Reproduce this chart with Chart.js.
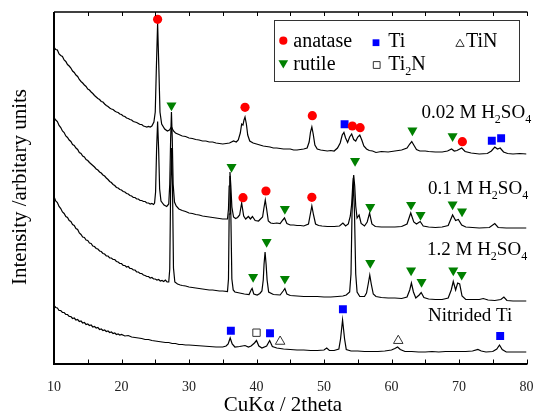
<!DOCTYPE html>
<html><head><meta charset="utf-8">
<script src="https://cdn.jsdelivr.net/npm/chart.js@4.4.0/dist/chart.umd.min.js"></script>
<style>html,body{margin:0;padding:0;background:#fff}#wrap{width:533px;height:418px;position:relative}canvas{display:block}</style>
</head><body><div id="wrap"><canvas id="c" width="533" height="418"></canvas></div>
<script>
// ---------- data (2theta, intensity in arbitrary units) ----------
const xTicks = [10, 20, 30, 40, 50, 60, 70, 80];
const xTitle = 'CuKα / 2theta';
const yTitle = 'Intensity /arbitary units';
const label002 = ['0.02 M H', '2', 'SO', '4'];
const label01 = ['0.1 M H', '2', 'SO', '4'];
const label12 = ['1.2 M H', '2', 'SO', '4'];
const labelNit = ['Nitrided Ti'];

const trace002 = [[10,317],[10.25,314.5],[10.5,314],[10.75,310],[11,308.5],[11.25,307.5],[11.5,304],[11.75,302.5],[12,299.5],[12.25,298],[12.5,296],[12.75,293],[13,291.5],[13.25,289],[13.5,287.5],[13.75,284.5],[14,282.5],[14.25,281],[14.5,279],[14.75,277.5],[15,275],[15.25,274],[15.5,272],[15.75,270.5],[16,268.5],[16.25,267],[16.5,265.5],[16.75,264.5],[17,262.5],[17.25,262],[17.5,260],[17.75,258.5],[18,257.5],[18.25,256],[18.5,255],[18.75,254.5],[19,253],[19.25,252],[19.5,251.5],[19.75,250],[20,249.5],[20.25,248],[20.5,247.5],[20.75,246],[21,245.5],[21.25,244.5],[21.5,244],[21.75,242.5],[22,242],[22.25,241.5],[22.5,240.5],[22.75,239.5],[23,239.5],[23.25,238],[23.5,237.5],[23.75,237],[24,237.5],[24.25,237],[24.5,238],[24.8,242],[25.0,252],[25.15,292],[25.35,341],[25.55,292],[25.7,252],[25.95,240],[26.4,235],[26.8,233],[27.1,234],[27.4,237],[27.7,233],[28.0,231],[28.5,229.5],[29,228],[29.5,227.5],[30,226],[30.5,225.5],[31,224.5],[31.5,224],[32,223],[32.5,223],[33,222],[33.5,222],[34,221],[34.5,220.5],[35,220],[35.5,220.5],[36,221],[36.6,223],[37,222],[37.3,224],[37.6,231],[37.8,240],[38.0,239],[38.15,244],[38.3,247],[38.5,240],[38.7,229],[39.0,223],[39.5,221],[40,220],[40.5,219],[41,218],[41.5,217.5],[42,217],[42.5,216],[43,216],[43.5,215.5],[44,215],[44.5,215],[45,215],[45.5,214],[46,214],[46.5,214.5],[47,215],[47.5,216],[47.8,222],[48.0,232],[48.2,237],[48.4,230],[48.65,219],[49.0,215],[49.5,214],[50,213.5],[50.5,213],[51,213.5],[51.5,213],[52.0,216],[52.4,221],[52.7,229],[52.95,231.5],[53.2,226],[53.5,221.5],[53.8,227],[54.1,230],[54.4,224.5],[54.7,223],[55.0,227],[55.3,229],[55.6,224],[55.9,218],[56.3,215],[56.7,213.5],[57.2,213],[57.7,211.5],[58.5,212.5],[59.5,212],[60.5,213],[61.5,214],[62.3,216],[62.7,220],[63.0,222.5],[63.3,219],[63.7,214.5],[64.2,213],[65.0,213],[65.5,212.5],[66.5,212],[67.5,212],[68.3,213],[68.9,215],[69.3,213],[69.7,213.5],[70.4,216],[70.9,212.5],[71.8,211],[73,210],[74.2,210.5],[74.8,213],[75.3,217],[75.7,215],[76.1,216],[76.6,212],[77.2,210.5],[78,210],[79,210.5],[80,210]];

const trace01 = [[10,246.5],[10.25,244],[10.5,242.5],[10.75,238.5],[11,236.5],[11.25,233],[11.5,231.5],[11.75,228],[12,226.5],[12.25,224],[12.5,222.5],[12.75,219.5],[13,218.5],[13.25,216],[13.5,214.5],[13.75,211.5],[14,210.5],[14.25,208],[14.5,207],[14.75,204.5],[15,203.5],[15.25,201.5],[15.5,200],[15.75,198.5],[16,197],[16.25,195],[16.5,194],[16.75,192],[17,191],[17.25,189],[17.5,188],[17.75,186],[18,184.5],[18.25,182.5],[18.5,181.5],[18.75,179.5],[19,178.5],[19.25,176.5],[19.5,176],[19.75,174.5],[20,174],[20.25,172.5],[20.5,172],[20.75,170.5],[21,170],[21.25,168.5],[21.5,168],[21.75,166.5],[22,166.5],[22.25,165],[22.5,165],[22.75,163.5],[23,163.5],[23.25,162.5],[23.5,162.5],[23.75,161],[24,161],[24.25,160],[24.5,160.5],[24.75,159.5],[24.9,161],[25.05,172],[25.2,215],[25.35,242.5],[25.5,215],[25.65,175],[25.85,163],[26.3,159],[26.7,157.5],[27.0,160],[27.15,180],[27.28,225],[27.4,252],[27.52,225],[27.65,180],[27.85,162],[28.1,158],[28.5,155],[29,153.5],[29.5,152.5],[30,151],[30.5,150.5],[31,149.5],[31.5,149],[32,148],[32.5,147.5],[33,147],[33.5,146.5],[34,146],[34.5,145.5],[35,145],[35.7,145],[35.85,155],[35.95,178],[36.07,192],[36.2,178],[36.35,157],[36.6,147],[36.9,145.5],[37.2,146.5],[37.5,149],[37.8,161],[38.1,148],[38.4,145],[38.8,147.5],[39.1,145],[39.4,147.5],[39.8,143.5],[40.3,143],[40.9,147],[41.1,156],[41.3,164],[41.5,155],[41.75,143],[42.1,141],[42.5,140.5],[43.0,141],[43.5,140.5],[43.9,144],[44.15,146],[44.5,140.5],[45,139],[45.5,139],[46,138.5],[46.5,138.5],[47,138],[47.7,140],[47.95,149],[48.2,158],[48.45,149],[48.75,140],[49.2,138.5],[49.7,138],[50.5,137.5],[51.5,137.5],[52.3,138],[52.8,141],[53.2,138],[53.6,140],[53.9,148],[54.1,160],[54.25,178],[54.4,189],[54.55,178],[54.7,158],[54.9,146],[55.2,149],[55.5,140.5],[56.0,138],[56.4,142],[56.75,151],[57.1,140],[57.6,137.5],[58.5,137],[59.5,137],[60.5,137],[61.5,137.5],[62.3,140],[62.85,151],[63.3,142],[63.7,140],[64.25,142.5],[64.7,138],[65.5,137],[66.5,136.5],[67.5,137],[68.4,138.5],[69.05,149],[69.5,143.5],[69.9,144.5],[70.4,139],[71,137],[72,136.5],[73,136],[74.5,136.5],[75.3,140.5],[75.8,136.5],[77,136],[78.5,136],[80,136]];

const trace12 = [[10,167.5],[10.25,163],[10.5,161.5],[10.75,157.5],[11,155.5],[11.25,152],[11.5,150.5],[11.75,147.5],[12,146.5],[12.25,143.5],[12.5,142.5],[12.75,139.5],[13,138.5],[13.25,135.5],[13.5,134.5],[13.75,131],[14,129.5],[14.25,127],[14.5,126.5],[14.75,124],[15,123.5],[15.25,121],[15.5,120.5],[15.75,118],[16,117.5],[16.25,115.5],[16.5,115],[16.75,113],[17,112.5],[17.25,110.5],[17.5,110],[17.75,108],[18,108],[18.25,106],[18.5,106],[18.75,104.5],[19,104.5],[19.25,102.5],[19.5,102],[19.75,100.5],[20,100.5],[20.25,98.5],[20.5,98.5],[20.75,97],[21,97.5],[21.25,95.5],[21.5,95.5],[21.75,94],[22,94],[22.25,92],[22.5,92],[22.75,90.5],[23,90.5],[23.25,89],[23.5,88.5],[23.75,87.5],[24,87.5],[24.25,86],[24.5,86.5],[24.75,85],[25,85],[25.25,84],[25.5,84.5],[25.75,83],[26,83.5],[26.25,82.5],[26.5,84],[26.75,82],[27.0,82],[27.15,95],[27.28,175],[27.42,216],[27.56,175],[27.7,96],[27.9,82],[28.3,80],[28.7,79],[29,78.5],[29.5,78],[30,77],[30.5,76.5],[31,76],[31.5,75.5],[32,75],[32.5,74.5],[33,74],[33.5,74],[34,73.5],[34.5,73],[35,73],[35.7,72.5],[35.85,85],[35.95,150],[36.07,188],[36.2,150],[36.35,85],[36.55,74],[36.8,72],[37.5,71],[38.2,70],[38.9,69.5],[39.2,74],[39.35,75.5],[39.6,70],[40.1,69],[40.5,70.5],[40.8,73],[41.0,84],[41.12,100],[41.27,112],[41.42,100],[41.57,84],[41.8,72],[42.5,69.5],[43.5,69],[43.95,73],[44.2,75.5],[44.5,70],[45,68.5],[46,68],[47,67.5],[48,67.5],[49,67.5],[50,67],[51,67],[52,67.5],[52.8,68],[53.3,69],[53.8,72],[54.0,90],[54.15,150],[54.35,186],[54.52,150],[54.7,90],[54.9,72],[55.3,67.5],[56.0,67.5],[56.3,71],[56.55,80],[56.78,89],[57.0,80],[57.3,70],[57.7,67.5],[58.5,66.5],[59.5,66],[60.5,66],[61.5,65.5],[62.3,67],[62.7,74],[62.95,81],[63.25,72],[63.6,66],[64.1,69],[64.4,71.5],[64.8,66.5],[65.5,65],[66.5,64.5],[67.5,64.5],[68.4,66],[68.85,74],[69.15,82.5],[69.5,74],[69.8,81],[70.1,80],[70.45,68],[71,64.5],[72,64.5],[73,64.5],[73.6,65.5],[74.3,64],[75.3,63.5],[76.2,64.5],[76.65,67],[77.1,63.5],[78,63],[79,63],[80,63]];

const traceNit = [[10,58.5],[10.25,56.5],[10.5,56],[10.75,53.5],[11,53.5],[11.25,51.5],[11.5,51.5],[11.75,49.5],[12,49.5],[12.25,47.5],[12.5,47.5],[12.75,45.5],[13,46],[13.25,44],[13.5,44.5],[13.75,42.5],[14,43],[14.25,41],[14.5,41.5],[14.75,39.5],[15,40],[15.25,38.5],[15.5,39],[15.75,37],[16,37.5],[16.25,36],[16.5,36.5],[16.75,34.5],[17,35],[17.25,33.5],[17.5,34],[17.75,32.5],[18,33],[18.25,31.5],[18.5,32],[18.75,30.5],[19,31],[19.25,29.5],[19.5,30],[19.75,29],[20,29.5],[20.5,28],[21,28.5],[21.5,27],[22,26.5],[22.5,26],[23,25.5],[23.5,24.5],[24,24.5],[24.5,23.5],[25,23],[25.5,22.5],[26,22],[26.5,21.5],[27,21.5],[27.5,20.5],[28,20.5],[28.5,19.5],[29,19.5],[29.5,19],[30,19],[31,18.5],[32,18],[33,17.5],[34,17],[35,17],[35.5,18],[35.8,20],[36.1,26],[36.4,20],[36.8,17],[37.5,17.5],[38.3,18.5],[38.8,17],[39.2,18],[39.7,21],[40.0,23.5],[40.35,18],[40.8,16],[41.5,18],[41.95,23.5],[42.35,17.5],[43,16],[44,15],[45,14.5],[46,14],[47,14],[48,13.5],[49,13.5],[50,14],[50.4,16],[50.8,13.5],[51.5,13.5],[52.2,15],[52.45,25],[52.75,44],[53.05,25],[53.3,14.5],[54,13],[55,13],[56,12.5],[57,12.5],[58,12.5],[59,13],[60,14],[60.5,15.5],[60.9,17],[61.3,14.5],[62,12.5],[63,12.5],[64,12],[65,12],[66,12.5],[67,12],[68,12.5],[69,12.5],[70,12.5],[71,12.5],[72,13],[72.8,14.5],[73.3,13],[74,12],[75,12.5],[75.6,15],[76.0,19],[76.4,14.5],[77,12],[78,12],[79,12],[80,12]];

// phase markers (2theta, intensity)
const anataseX = [25.35, 38.3, 48.27, 54.2, 55.35, 70.5, 38.0, 41.4, 48.2];
const anataseY = [344.7, 256.7, 248.3, 238, 236.3, 222.3, 166.3, 173, 166.7];
const rutileX = [27.4, 63.1, 69.05, 36.3, 44.2, 54.6, 56.85, 62.9, 64.3, 69.05, 70.45, 39.5, 41.5, 44.2, 56.85, 62.9, 64.45, 69.15, 70.4];
const rutileY = [258.5, 233.5, 227.8, 197, 155, 203, 157, 159.2, 149, 159.5, 152.5, 87, 122, 85.2, 101, 93.5, 82, 93.5, 89.2];
const tiX = [53.05, 74.86, 76.24, 36.2, 42.0, 52.8, 76.1];
const tiY = [239.7, 223.3, 225.7, 33.3, 30.7, 54.7, 28];
const ti2nX = [40.0];
const ti2nY = [31.3];
const tinX = [43.5, 61.0];
const tinY = [22.5, 23.3];

const SERIF = '"Liberation Serif", "Times New Roman", serif';

const toPts = arr => arr.map(([x, y]) => ({x, y}));
const zipPts = (xs, ys) => xs.map((x, i) => ({x, y: ys[i]}));

function lineSet(arr) {
  return {data: toPts(arr), borderColor: '#000', borderWidth: 1.2, pointRadius: 0, tension: 0, fill: false, order: 1};
}
function markSet(label, xs, ys, style, r, fill, stroke, rot) {
  return {label, data: zipPts(xs, ys), showLine: false, pointStyle: style, rotation: rot || 0, pointRadius: r,
    pointBackgroundColor: fill, pointBorderColor: stroke, pointBorderWidth: stroke === fill ? 0 : 1, order: 0,
    legendParts: label};
}

const datasets = [
  lineSet(trace002), lineSet(trace01), lineSet(trace12), lineSet(traceNit),
  markSet(['anatase'], anataseX, anataseY, 'circle', 4.6, '#ff0000', '#ff0000'),
  markSet(['rutile'], rutileX, rutileY, 'triangle', 5.8, '#008000', '#008000', 180),
  markSet(['Ti'], tiX, tiY, 'rect', 5.6, '#0000ff', '#0000ff'),
  markSet(['Ti', '2', 'N'], ti2nX, ti2nY, 'rect', 5.2, 'rgba(0,0,0,0)', '#333'),
  markSet(['TiN'], tinX, tinY, 'triangle', 5.5, 'rgba(0,0,0,0)', '#333')
];

function drawParts(ctx, parts, x, y, size) {
  let cx = x;
  parts.forEach((p, i) => {
    const sub = i % 2 === 1;
    ctx.font = (sub ? Math.round(size * 0.62) : size) + 'px ' + SERIF;
    ctx.fillText(p, cx, sub ? y + size * 0.28 : y);
    cx += ctx.measureText(p).width;
  });
}

function drawMarker(ctx, style, x, y, r, fill, stroke, rot) {
  ctx.beginPath();
  if (style === 'circle') {
    ctx.arc(x, y, r, 0, Math.PI * 2);
  } else if (style === 'rect') {
    const s = r * Math.SQRT1_2;
    ctx.rect(x - s, y - s, 2 * s, 2 * s);
  } else {
    let a = (rot || 0) * Math.PI / 180;
    for (let k = 0; k < 3; k++) {
      const px = x + Math.sin(a) * r, py = y - Math.cos(a) * r;
      k ? ctx.lineTo(px, py) : ctx.moveTo(px, py);
      a += 2 * Math.PI / 3;
    }
    ctx.closePath();
  }
  ctx.fillStyle = fill; ctx.fill();
  if (stroke !== fill) { ctx.strokeStyle = stroke; ctx.lineWidth = 1; ctx.stroke(); }
}

const decor = {
  id: 'decor',
  afterDraw(chart) {
    const {ctx, chartArea: a, scales: {x}} = chart;
    ctx.save();
    ctx.strokeStyle = '#000';
    ctx.lineWidth = 2;
    ctx.beginPath();
    ctx.moveTo(a.left, a.top); ctx.lineTo(a.left, a.bottom + 1);
    ctx.moveTo(a.left - 1, a.bottom); ctx.lineTo(a.right + 1, a.bottom);
    ctx.stroke();
    ctx.lineWidth = 1.3;
    ctx.beginPath();
    ctx.moveTo(a.left, a.top); ctx.lineTo(a.right + 1, a.top);
    ctx.stroke();
    ctx.lineWidth = 1;
    ctx.beginPath();
    for (let v = 10; v <= 80; v += 5) {
      const px = Math.round(x.getPixelForValue(v)) + 0.5;
      ctx.moveTo(px, a.bottom); ctx.lineTo(px, a.bottom - 4.5);
      ctx.moveTo(px, a.top); ctx.lineTo(px, a.top + 4);
    }
    ctx.stroke();
    ctx.fillStyle = '#000';
    ctx.font = '21px ' + SERIF;
    ctx.textAlign = 'center';
    ctx.textBaseline = 'alphabetic';
    ctx.fillText(xTitle, 283, 411);
    ctx.save();
    ctx.translate(26, 187);
    ctx.rotate(-Math.PI / 2);
    ctx.fillText(yTitle, 0, 0);
    ctx.restore();
    ctx.textAlign = 'left';
    drawParts(ctx, label002, 421.5, 118, 19);
    drawParts(ctx, label01, 428, 194, 19);
    drawParts(ctx, label12, 427, 255, 19);
    drawParts(ctx, labelNit, 428, 321, 19);
    ctx.lineWidth = 1;
    ctx.strokeStyle = '#333';
    ctx.strokeRect(274.5, 20.5, 245, 61);
    const ds = chart.data.datasets;
    const slots = [
      [4, 283.3, 40.7, 293.3, 46.5, 4.1],
      [6, 376, 42.7, 388.3, 46.5, 4.8],
      [8, 460, 44, 466, 46.5, 4.8],
      [5, 283.3, 63, 293.3, 69.5, 5.6],
      [7, 376.7, 65, 388.3, 69.5, 4.8]
    ];
    slots.forEach(([i, mx, my, tx, ty, r]) => {
      const d = ds[i];
      drawMarker(ctx, d.pointStyle, mx, my, r, d.pointBackgroundColor, d.pointBorderColor, d.rotation);
      ctx.fillStyle = '#000';
      drawParts(ctx, d.legendParts, tx, ty, 20);
    });
    ctx.restore();
  }
};

new Chart(document.getElementById('c'), {
  type: 'line',
  data: {datasets},
  options: {
    responsive: false, animation: false, devicePixelRatio: 1,
    layout: {padding: {left: 54, right: 1, top: 12, bottom: 0}},
    plugins: {legend: {display: false}, tooltip: {enabled: false}},
    scales: {
      x: {
        type: 'linear', min: 10, max: 80,
        afterFit(s) { s.height = 54; s.paddingLeft = 0; s.paddingRight = 0; },
        grid: {display: false}, border: {display: false},
        ticks: {stepSize: 10, autoSkip: false, maxRotation: 0, padding: 7, color: '#222',
          font: {family: 'Liberation Serif', size: 14},
          callback: v => xTicks.includes(v) ? String(v) : ''}
      },
      y: {min: 0, max: 352, display: false}
    }
  },
  plugins: [decor]
});
</script>
</body></html>
